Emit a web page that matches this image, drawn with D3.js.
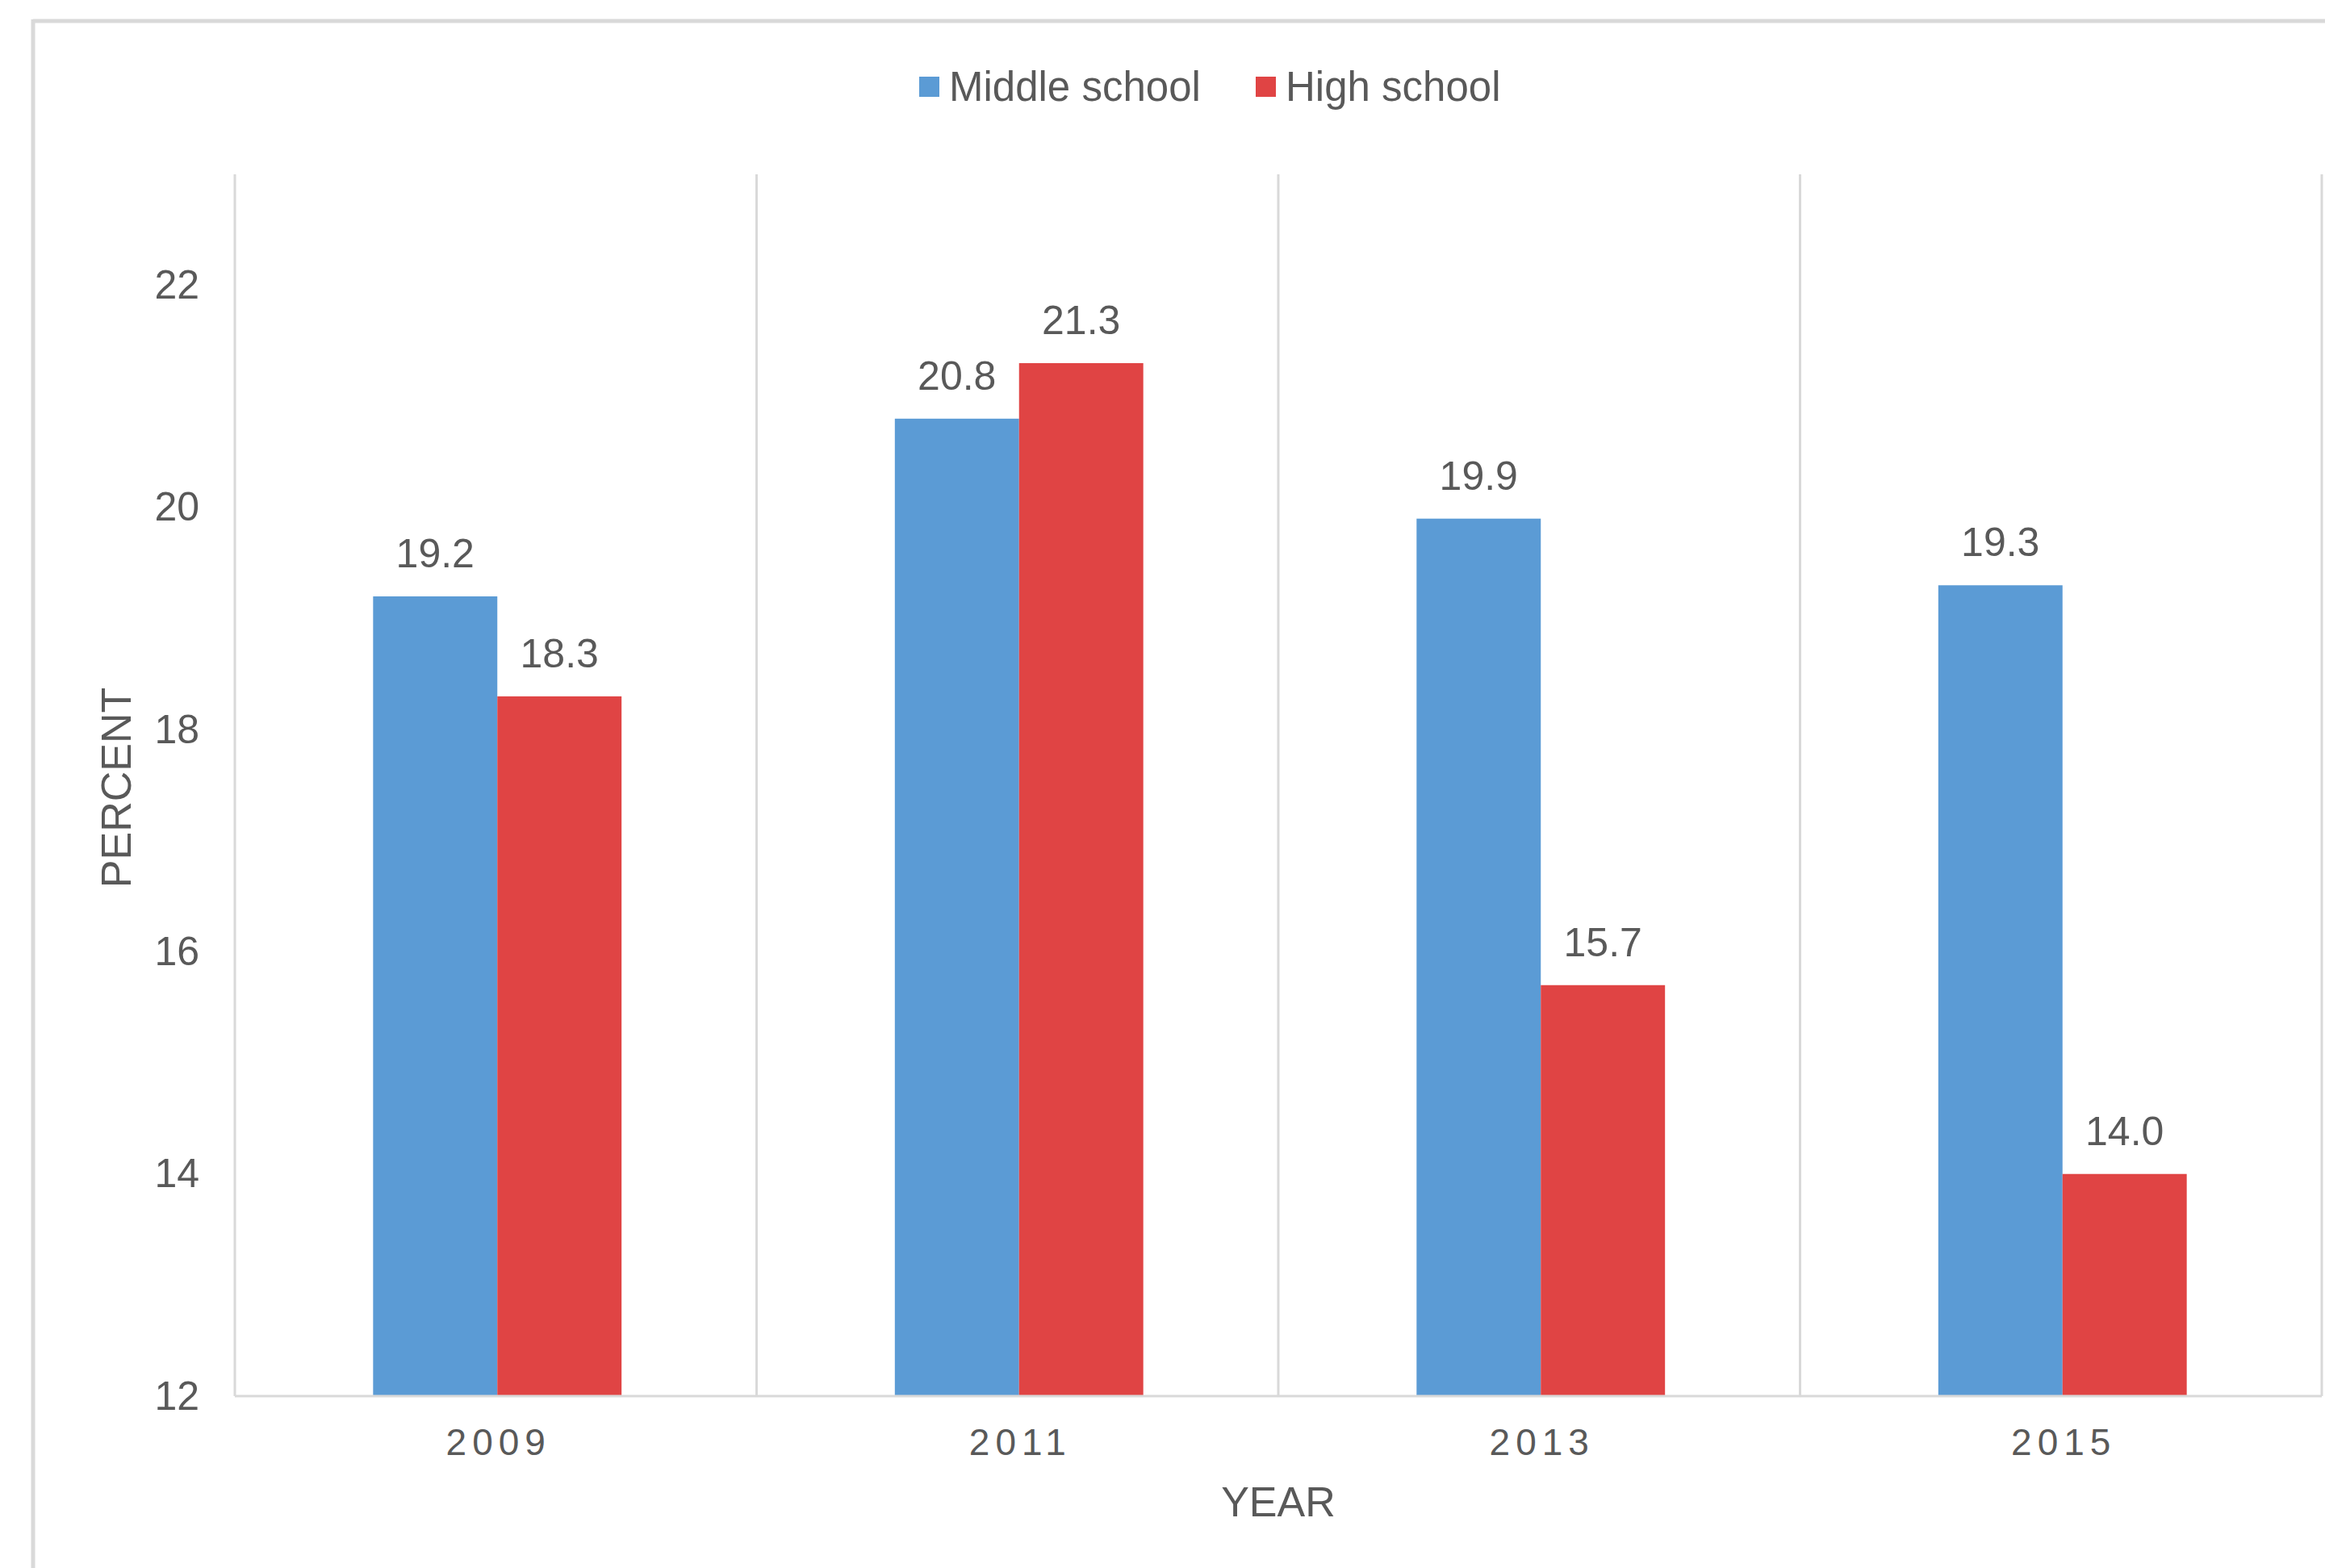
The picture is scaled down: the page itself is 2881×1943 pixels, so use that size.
<html>
<head>
<script src="https://cdn.jsdelivr.net/npm/d3@7"></script>
<style>
    body { margin: 0; background: #fff; }
    text { font-family: "Liberation Sans", Arial, sans-serif; fill: #595959; }
</style>
</head>
<body>
<svg width="2881" height="1943"></svg>
<script>
    // data
    var years = ["2009", "2011", "2013", "2015"];
    var series = ["Middle school", "High school"];
    var middleSchool = [19.2, 20.8, 19.9, 19.3];
    var highSchool = [18.3, 21.3, 15.7, 14.0];
    var yTicks = [12, 14, 16, 18, 20, 22];

    var colors = ["#5B9BD5", "#E04444"];
    var values = [middleSchool, highSchool];

    var plotLeft = 291, plotRight = 2877, plotTop = 216, plotBottom = 1730;

    var svg = d3.select("svg");

    // outer frame (only top and left edges show)
    svg.append("line").attr("x1", 41).attr("x2", 2881).attr("y1", 26).attr("y2", 26)
        .attr("stroke", "#d9d9d9").attr("stroke-width", 5);
    svg.append("line").attr("x1", 41).attr("x2", 41).attr("y1", 24).attr("y2", 1943)
        .attr("stroke", "#d9d9d9").attr("stroke-width", 5);

    var x0 = d3.scaleBand().domain(years).range([plotLeft, plotRight]).padding(0);
    var x1 = d3.scaleBand().domain(series).range([0, x0.bandwidth()])
        .paddingInner(0).paddingOuter(1.1);
    var y = d3.scaleLinear().domain([12, 23]).range([plotBottom, plotTop]);

    // vertical separators between categories
    var seps = years.map(function(d) { return x0(d); }).concat([plotRight]);
    svg.append("g").selectAll("line")
        .data(seps)
        .enter().append("line")
        .attr("x1", function(d) { return d; })
        .attr("x2", function(d) { return d; })
        .attr("y1", plotTop).attr("y2", plotBottom)
        .attr("stroke", "#d9d9d9").attr("stroke-width", 3);

    // bars
    var groups = svg.append("g").selectAll("g")
        .data(years)
        .enter().append("g")
        .attr("transform", function(d) { return "translate(" + (x0(d) + 2) + ",0)"; });

    groups.selectAll("rect")
        .data(function(d, i) { return series.map(function(s, j) { return { s: s, v: values[j][i], c: colors[j] }; }); })
        .enter().append("rect")
        .attr("x", function(d) { return x1(d.s); })
        .attr("y", function(d) { return y(d.v); })
        .attr("width", x1.bandwidth())
        .attr("height", function(d) { return plotBottom - y(d.v); })
        .attr("fill", function(d) { return d.c; });

    groups.selectAll("text")
        .data(function(d, i) { return series.map(function(s, j) { return { s: s, v: values[j][i] }; }); })
        .enter().append("text")
        .attr("x", function(d) { return x1(d.s) + x1.bandwidth() / 2; })
        .attr("y", function(d) { return y(d.v) - 36; })
        .attr("text-anchor", "middle")
        .attr("font-size", 50)
        .text(function(d) { return d.v.toFixed(1); });

    // baseline
    svg.append("line").attr("x1", plotLeft).attr("x2", plotRight).attr("y1", plotBottom).attr("y2", plotBottom)
        .attr("stroke", "#d9d9d9").attr("stroke-width", 3);

    // y axis labels
    var yAxis = svg.append("g")
        .attr("transform", "translate(" + plotLeft + ",0)")
        .call(d3.axisLeft(y).tickValues(yTicks).tickSize(0).tickPadding(44));
    yAxis.select(".domain").remove();
    yAxis.selectAll("text")
        .attr("font-size", 50)
        .attr("font-family", "Liberation Sans, Arial, sans-serif")
        .attr("fill", "#595959");

    // x axis labels
    var xAxis = svg.append("g")
        .attr("transform", "translate(0," + plotBottom + ")")
        .call(d3.axisBottom(x0).tickSize(0).tickPadding(40));
    xAxis.select(".domain").remove();
    xAxis.selectAll("text")
        .attr("font-size", 46)
        .attr("font-family", "Liberation Sans, Arial, sans-serif")
        .attr("fill", "#595959")
        .attr("letter-spacing", 7)
        .attr("dx", 3.5);

    // axis titles
    svg.append("text")
        .attr("x", (plotLeft + plotRight) / 2)
        .attr("y", 1879)
        .attr("text-anchor", "middle")
        .attr("font-size", 52)
        .text("YEAR");

    svg.append("text")
        .attr("transform", "translate(162,976) rotate(-90)")
        .attr("text-anchor", "middle")
        .attr("font-size", 52)
        .text("PERCENT");

    // legend
    var legendX = [1139, 1556];
    var legend = svg.append("g").selectAll("g")
        .data(series)
        .enter().append("g")
        .attr("transform", function(d, i) { return "translate(" + legendX[i] + ",95)"; });
    legend.append("rect")
        .attr("width", 25).attr("height", 25)
        .attr("fill", function(d, i) { return colors[i]; });
    legend.append("text")
        .attr("x", 37).attr("y", 30)
        .attr("font-size", 51)
        .text(function(d) { return d; });
</script>
</body>
</html>
